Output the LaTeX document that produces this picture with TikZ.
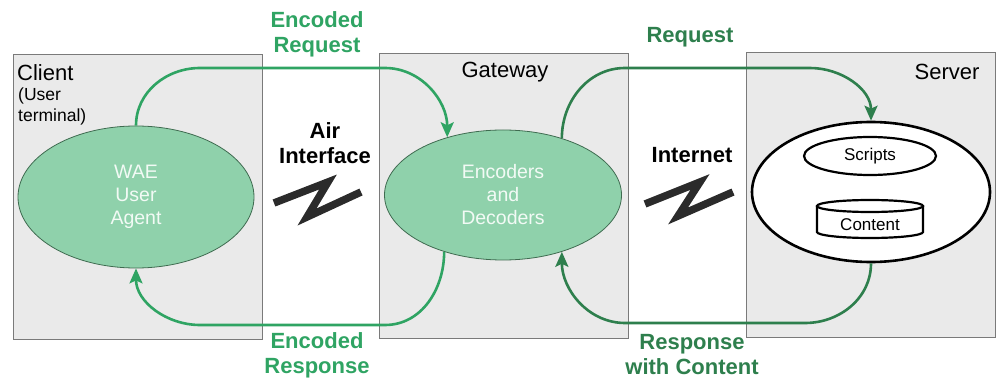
\documentclass[tikz,border=0pt]{standalone}
\usepackage{fontspec}
\setmainfont{Liberation Sans}
\usetikzlibrary{shapes.geometric,arrows.meta}
\definecolor{boxfill}{HTML}{EAEAEA}
\definecolor{boxline}{HTML}{7A7A7A}
\definecolor{ellfill}{HTML}{8FD1AB}
\definecolor{ellline}{HTML}{3F6B50}
\definecolor{enctext}{HTML}{F2FAF5}
\definecolor{encgreen}{HTML}{2FA463}
\definecolor{reqgreen}{HTML}{2E7F4D}
\definecolor{zigcol}{HTML}{2B2B2B}
\begin{document}
\begin{tikzpicture}[x=1pt,y=1pt,
  zone/.style={draw=boxline, fill=boxfill, line width=0.8pt, anchor=north west, minimum width=249pt, minimum height=285pt, inner sep=0pt},
  agent/.style={ellipse, draw=ellline, fill=ellfill, line width=0.8pt, inner sep=0pt, text=enctext, font=\fontsize{19.5}{23}\selectfont, align=center},
  flowenc/.style={draw=encgreen, line width=2.6pt, -{Stealth[length=15pt,width=13pt,inset=3pt]}},
  flowreq/.style={draw=reqgreen, line width=2.6pt, -{Stealth[length=15pt,width=13pt,inset=3pt]}},
  lblenc/.style={text=encgreen, font=\bfseries\fontsize{22}{25}\selectfont, align=center},
  lblreq/.style={text=reqgreen, font=\bfseries\fontsize{22}{25}\selectfont, align=center},
  zonetitle/.style={font=\fontsize{22}{24}\selectfont, inner sep=0pt},
  medium/.style={font=\bfseries\fontsize{22}{25}\selectfont, align=center},
  zigzag/.style={draw=zigcol, line width=7.5pt, line join=miter},
  inner/.style={font=\fontsize{17}{20}\selectfont, inner sep=0pt}
]
\useasboundingbox (0,0) rectangle (1000,-379);

% zones
\node[zone] (clientbox) at (13,-54) {};
\node[zone] (gatebox) at (379,-53) {};
\node[zone] (servbox) at (746,-52) {};

% zone titles
\node[zonetitle, anchor=west] (client) at (17,-73) {Client};
\node[anchor=west, align=left, inner sep=0pt, font=\fontsize{17.5}{21}\selectfont] (userterm) at (18,-106) {(User\\terminal)};
\node[zonetitle] (gatetitle) at (505,-72) {Gateway};
\node[zonetitle] (servtitle) at (947,-72) {Server};

% agents
\node[agent, minimum width=236pt, minimum height=142pt] (wae) at (136,-197) {WAE\\User\\Agent};
\node[agent, minimum width=237pt, minimum height=130pt] (gw) at (503,-195) {Encoders\\and\\Decoders};
\node[ellipse, draw=black, fill=white, line width=2.6pt, inner sep=0pt, minimum width=238pt, minimum height=140pt] (srv) at (871,-192) {};
\node[inner, ellipse, draw=black, line width=2.2pt, minimum width=132pt, minimum height=38pt] (scripts) at (870,-156) {Scripts};
\draw[line width=2.2pt] (817,-206) -- (817,-232) arc[start angle=180, end angle=360, x radius=53, y radius=6] -- (923,-206);
\draw[line width=2.2pt] (870,-206) ellipse [x radius=53, y radius=6];
\node[inner] (content) at (870,-225) {Content};

% media
\node[medium] (air) at (325,-143) {Air\\Interface};
\node[medium] (inet) at (692,-155) {Internet};
\draw[zigzag] (274,-203) -- (328,-182) -- (307,-217) -- (361,-192);
\draw[zigzag] (645,-204) -- (700,-182) -- (678,-216) -- (733,-192);

% flows
\coordinate (a1) at (200,-68);
\coordinate (a2) at (385,-68);
\draw[flowenc] (wae.north) to[out=90,in=180] (a1) -- (a2) to[out=0,in=90] (gw.134);

\coordinate (b1) at (625,-68);
\coordinate (b2) at (810,-68);
\draw[flowreq] (gw.44) to[out=90,in=180] (b1) -- (b2) to[out=0,in=90] (srv.north);

\coordinate (c1) at (805,-323);
\coordinate (c2) at (625,-323);
\draw[flowreq] (srv.south) to[out=-90,in=0] (c1) -- (c2) to[out=180,in=-90] (gw.-44);

\coordinate (d1) at (385,-325);
\coordinate (d2) at (200,-325);
\draw[flowenc] (gw.-136) to[out=-90,in=0] (d1) -- (d2) to[out=180,in=-90] (wae.south);

% labels
\node[lblenc] (encreq) at (317,-34) {Encoded\\Request};
\node[lblreq] (req) at (690,-37) {Request};
\node[lblenc] (encresp) at (317,-355) {Encoded\\Response};
\node[lblreq] (respc) at (692,-355) {Response\\with Content};
\end{tikzpicture}
\end{document}
